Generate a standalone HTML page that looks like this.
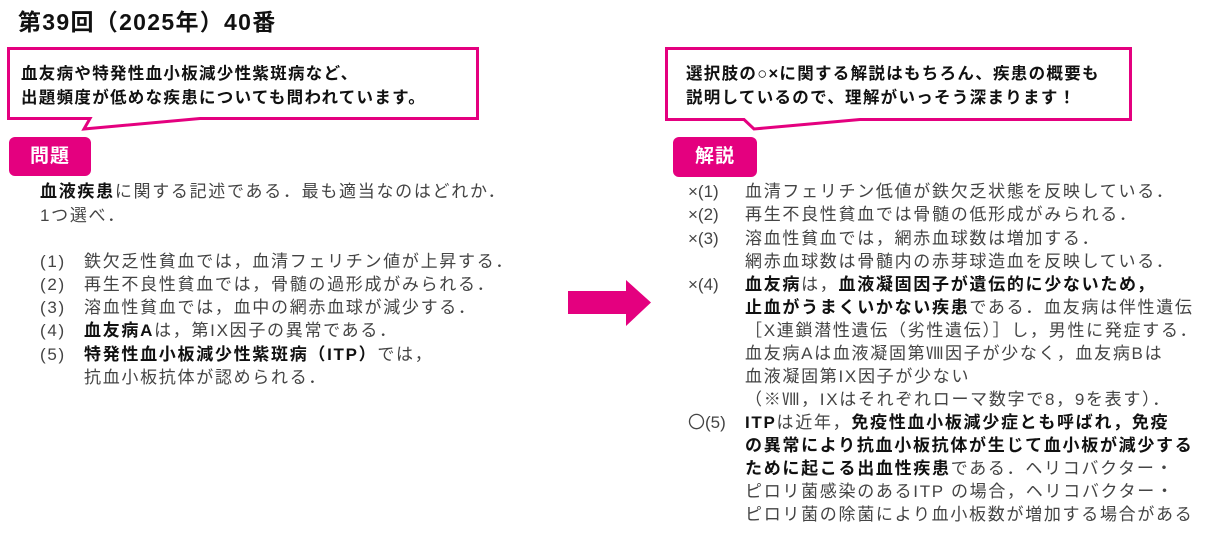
<!DOCTYPE html>
<html><head><meta charset="utf-8"><style>
body{margin:0;width:1218px;height:535px;background:#fff;position:relative;overflow:hidden;font-family:"Liberation Sans","Noto Sans CJK JP",sans-serif;}
.a{position:absolute;white-space:nowrap;}
.t{font-size:17px;letter-spacing:1.7px;color:#444;line-height:20px;}
b{color:#111;font-weight:bold;}
.tag{position:absolute;background:#e4007f;color:#fff;font-weight:bold;font-size:19px;border-radius:6px;text-align:center;line-height:39px;letter-spacing:1px;}
.cl{font-size:16.5px;font-weight:bold;color:#111;letter-spacing:1.3px;line-height:24px;}
</style></head><body>
<div class="a" style="left:18px;top:3px;font-size:23px;letter-spacing:1.3px;font-weight:bold;color:#111;">第39回（2025年）40番</div>

<svg class="a" style="left:0;top:0" width="1218" height="535">
<path d="M8.5 48.5 H477.5 V118.5 H200 L84 129 L90 118.5 H8.5 Z" fill="#fff" stroke="#e4007f" stroke-width="3"/>
<path d="M666.5 48.5 H1130.5 V119.5 H860 L754 129 L744 119.5 H666.5 Z" fill="#fff" stroke="#e4007f" stroke-width="3"/>
<path d="M568 291 H626 V280 L651 302.5 L626 326 V314 H568 Z" fill="#e4007f"/>
</svg>

<div class="a cl" style="left:21px;top:62px;">血友病や特発性血小板減少性紫斑病など、<br>出題頻度が低めな疾患についても問われています。</div>
<div class="a cl" style="left:686px;top:62px;">選択肢の○×に関する解説はもちろん、疾患の概要も<br>説明しているので、理解がいっそう深まります！</div>

<div class="tag" style="left:9px;top:137px;width:82px;height:39px;">問題</div>
<div class="tag" style="left:673px;top:137px;width:84px;height:40px;">解説</div>

<div class="a t" style="left:40px;top:182px;"><b>血液疾患</b>に関する記述である．最も適当なのはどれか．</div>
<div class="a t" style="left:40px;top:206px;">1つ選べ．</div>

<div class="a t" style="left:40px;top:252px;">(1)</div><div class="a t" style="left:84px;top:252px;">鉄欠乏性貧血では，血清フェリチン値が上昇する．</div>
<div class="a t" style="left:40px;top:275px;">(2)</div><div class="a t" style="left:84px;top:275px;">再生不良性貧血では，骨髄の過形成がみられる．</div>
<div class="a t" style="left:40px;top:298px;">(3)</div><div class="a t" style="left:84px;top:298px;">溶血性貧血では，血中の網赤血球が減少する．</div>
<div class="a t" style="left:40px;top:321px;">(4)</div><div class="a t" style="left:84px;top:321px;"><b>血友病A</b>は，第IX因子の異常である．</div>
<div class="a t" style="left:40px;top:345px;">(5)</div><div class="a t" style="left:84px;top:345px;"><b>特発性血小板減少性紫斑病（ITP）</b>では，</div>
<div class="a t" style="left:84px;top:368px;">抗血小板抗体が認められる．</div>

<div class="a t" style="left:688px;top:182px;letter-spacing:0">×(1)</div><div class="a t" style="left:745px;top:182px;">血清フェリチン低値が鉄欠乏状態を反映している．</div>
<div class="a t" style="left:688px;top:205px;letter-spacing:0">×(2)</div><div class="a t" style="left:745px;top:205px;">再生不良性貧血では骨髄の低形成がみられる．</div>
<div class="a t" style="left:688px;top:229px;letter-spacing:0">×(3)</div><div class="a t" style="left:745px;top:229px;">溶血性貧血では，網赤血球数は増加する．</div>
<div class="a t" style="left:745px;top:252px;">網赤血球数は骨髄内の赤芽球造血を反映している．</div>
<div class="a t" style="left:688px;top:275px;letter-spacing:0">×(4)</div><div class="a t" style="left:745px;top:275px;"><b>血友病</b>は，<b>血液凝固因子が遺伝的に少ないため，</b></div>
<div class="a t" style="left:745px;top:298px;"><b>止血がうまくいかない疾患</b>である．血友病は伴性遺伝</div>
<div class="a t" style="left:745px;top:321px;">［X連鎖潜性遺伝（劣性遺伝）］し，男性に発症する．</div>
<div class="a t" style="left:745px;top:344px;">血友病Aは血液凝固第Ⅷ因子が少なく，血友病Bは</div>
<div class="a t" style="left:745px;top:367px;">血液凝固第IX因子が少ない</div>
<div class="a t" style="left:745px;top:390px;">（※Ⅷ，IXはそれぞれローマ数字で8，9を表す）．</div>
<div class="a t" style="left:688px;top:413px;letter-spacing:0">〇(5)</div><div class="a t" style="left:745px;top:413px;"><b>ITP</b>は近年，<b>免疫性血小板減少症とも呼ばれ，免疫</b></div>
<div class="a t" style="left:745px;top:436px;"><b>の異常により抗血小板抗体が生じて血小板が減少する</b></div>
<div class="a t" style="left:745px;top:459px;"><b>ために起こる出血性疾患</b>である．ヘリコバクター・</div>
<div class="a t" style="left:745px;top:482px;">ピロリ菌感染のあるITP の場合，ヘリコバクター・</div>
<div class="a t" style="left:745px;top:505px;">ピロリ菌の除菌により血小板数が増加する場合がある</div>
</body></html>
